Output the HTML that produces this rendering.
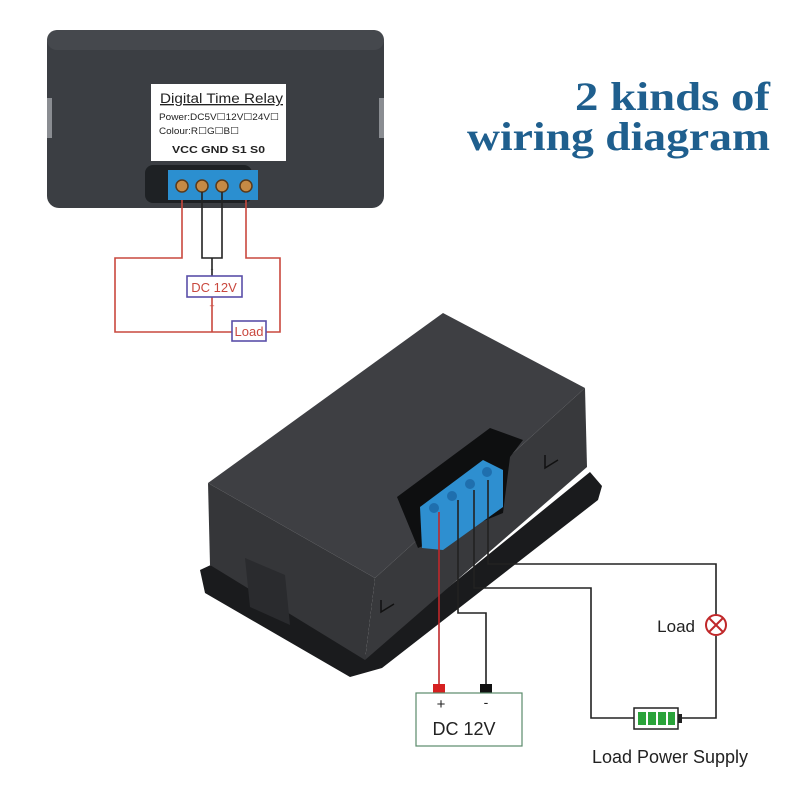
<!DOCTYPE html>
<html><head><meta charset="utf-8"><style>
html,body{margin:0;padding:0;background:#fff;}
svg{display:block;}
</style></head><body>
<svg width="800" height="800" viewBox="0 0 800 800" xmlns="http://www.w3.org/2000/svg">
<rect width="800" height="800" fill="#fff"/>
<!-- top device -->
<rect x="47" y="30" width="337" height="178" rx="12" fill="#3b3e43"/>
<rect x="47" y="30" width="337" height="20" rx="10" fill="#45484d"/>
<rect x="47" y="98" width="5" height="40" fill="#8a8d92"/>
<rect x="379" y="98" width="5" height="40" fill="#8a8d92"/>
<rect x="151" y="84" width="135" height="77" fill="#fff"/>
<text x="160" y="103" font-family="Liberation Sans, sans-serif" font-size="13.5" textLength="123" lengthAdjust="spacingAndGlyphs" fill="#222" text-decoration="underline">Digital Time Relay</text>
<text x="159" y="120" font-family="Liberation Sans, sans-serif" font-size="9.5" textLength="120" lengthAdjust="spacingAndGlyphs" fill="#222">Power:DC5V☐12V☐24V☐</text>
<text x="159" y="134" font-family="Liberation Sans, sans-serif" font-size="9.5" textLength="80" lengthAdjust="spacingAndGlyphs" fill="#222">Colour:R☐G☐B☐</text>
<text x="172" y="153" font-family="Liberation Sans, sans-serif" font-size="10.5" font-weight="bold" textLength="93" lengthAdjust="spacingAndGlyphs" fill="#222">VCC  GND  S1  S0</text>
<rect x="145" y="165" width="107" height="38" rx="8" fill="#1e2124"/>
<rect x="168" y="170" width="90" height="30" fill="#2b8fd0"/>
<g fill="#c68a45" stroke="#5a3a1a" stroke-width="1.5">
<circle cx="182" cy="186" r="6"/><circle cx="202" cy="186" r="6"/><circle cx="222" cy="186" r="6"/><circle cx="246" cy="186" r="6"/>
</g>
<!-- top wiring -->
<g fill="none" stroke="#c9483e" stroke-width="1.6">
<polyline points="182,200 182,258 115,258 115,332 232,332"/>
<polyline points="246,200 246,258 280,258 280,332 266,332"/>
<polyline points="212,297 212,332"/>
</g>
<g fill="none" stroke="#222" stroke-width="1.6">
<polyline points="202,192 202,258 222,258 222,192"/>
<line x1="212" y1="258" x2="212" y2="276"/>
</g>
<rect x="187" y="276" width="55" height="21" fill="#fff" stroke="#5a4fa8" stroke-width="1.6"/>
<text x="214" y="292" font-family="Liberation Sans, sans-serif" font-size="13" text-anchor="middle" fill="#c9483e">DC 12V</text>
<text x="212" y="272" font-family="Liberation Sans, sans-serif" font-size="9" text-anchor="middle" fill="#333">-</text>
<text x="212" y="309" font-family="Liberation Sans, sans-serif" font-size="9" text-anchor="middle" fill="#c9483e">+</text>
<rect x="232" y="321" width="34" height="20" fill="#fff" stroke="#5a4fa8" stroke-width="1.6"/>
<text x="249" y="336" font-family="Liberation Sans, sans-serif" font-size="13" text-anchor="middle" fill="#c9483e">Load</text>
<!-- title -->
<text x="575" y="110" font-family="Liberation Serif, serif" font-weight="bold" font-size="40" textLength="195" lengthAdjust="spacingAndGlyphs" fill="#1f5f8e">2 kinds of</text>
<text x="467" y="150" font-family="Liberation Serif, serif" font-weight="bold" font-size="40" textLength="303" lengthAdjust="spacingAndGlyphs" fill="#1f5f8e">wiring diagram</text>
<!-- bottom device -->
<polygon points="200,570 215,563 365,655 590,472 602,486 598,500 382,668 350,677 205,593" fill="#1a1b1d"/>
<polygon points="208,483 375,578 365,660 210,565" fill="#353639"/>
<polygon points="375,578 585,388 587,467 365,660" fill="#38393c"/>
<polygon points="208,483 443,313 585,388 375,578" fill="#3e3f43"/>
<polygon points="245,558 285,575 290,625 250,607" fill="#2a2b2e"/>
<polygon points="397,497 490,428 523,440 510,457 503,513 418,548" fill="#0e0f10"/>
<polygon points="420,507 483,460 503,470 503,507 443,550 422,548" fill="#2e8fd0"/>
<g fill="#1f6fae"><circle cx="434" cy="508" r="5"/><circle cx="452" cy="496" r="5"/><circle cx="470" cy="484" r="5"/><circle cx="487" cy="472" r="5"/></g>
<g fill="none" stroke="#111" stroke-width="1.5">
<polyline points="381,600 381,612 394,604"/>
<polyline points="545,455 545,468 558,460"/>
</g>
<!-- bottom wiring -->
<line x1="439" y1="512" x2="439" y2="686" stroke="#c0282a" stroke-width="1.6"/>
<g fill="none" stroke="#222" stroke-width="1.6">
<polyline points="458,500 458,613 486,613 486,686"/>
<polyline points="474,490 474,588 591,588 591,718 634,718"/>
<polyline points="488,480 488,564 716,564 716,615"/>
<polyline points="716,636 716,718 682,718"/>
</g>
<rect x="433" y="684" width="12" height="9" fill="#d62020"/>
<rect x="480" y="684" width="12" height="9" fill="#111"/>
<rect x="416" y="693" width="106" height="53" fill="#fff" stroke="#5a8a6a" stroke-width="1.2"/>
<text x="441" y="709" font-family="Liberation Sans, sans-serif" font-size="15" text-anchor="middle" fill="#222">+</text>
<text x="486" y="707" font-family="Liberation Sans, sans-serif" font-size="14" text-anchor="middle" fill="#222">-</text>
<text x="464" y="735" font-family="Liberation Sans, sans-serif" font-size="18" text-anchor="middle" fill="#222">DC 12V</text>
<circle cx="716" cy="625" r="10" fill="#fff" stroke="#c0282a" stroke-width="2"/>
<line x1="709" y1="618" x2="723" y2="632" stroke="#c0282a" stroke-width="2"/>
<line x1="723" y1="618" x2="709" y2="632" stroke="#c0282a" stroke-width="2"/>
<text x="695" y="632" font-family="Liberation Sans, sans-serif" font-size="17" text-anchor="end" fill="#222">Load</text>
<rect x="634" y="708" width="44" height="21" fill="#fff" stroke="#222" stroke-width="1.5"/>
<rect x="678" y="714" width="4" height="9" fill="#222"/>
<g fill="#2aa33a"><rect x="638" y="712" width="8" height="13"/><rect x="648" y="712" width="8" height="13"/><rect x="658" y="712" width="8" height="13"/><rect x="668" y="712" width="7" height="13"/></g>
<text x="670" y="763" font-family="Liberation Sans, sans-serif" font-size="18" text-anchor="middle" fill="#222">Load Power Supply</text>
</svg>
</body></html>
